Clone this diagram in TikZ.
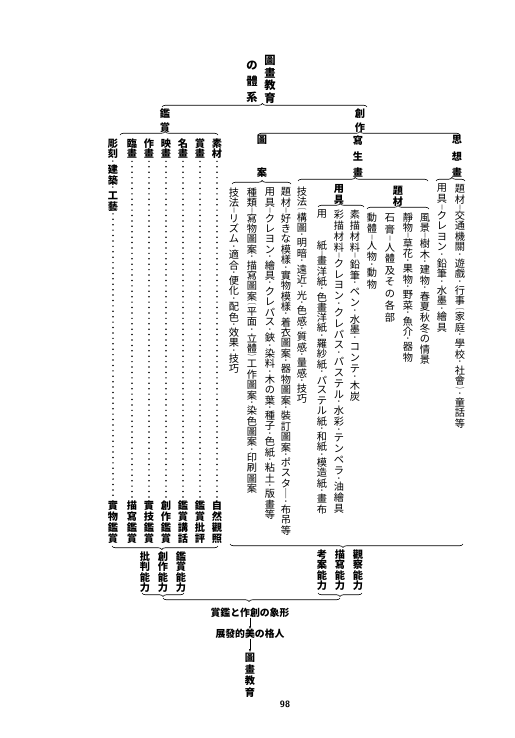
\documentclass[tikz,border=0pt]{standalone}
\usepackage{fontspec}
\usepackage{graphicx}
\newfontfamily\jp{Noto Sans CJK JP}
\usetikzlibrary{decorations.pathreplacing,arrows.meta}

\newlength\pxu
\setlength\pxu{0.05cm}
\newlength\vp
\def\vhalfA{・}\def\vhalfB{‖}\def\vhalfC{︵}\def\vhalfD{︶}
\def\vcell#1#2{\vbox to #1{\vss\hbox to 1em{\hss#2\hss}\vss}}
\def\vsm#1{{\bfseries\fontsize{7.2}{7.2}\selectfont#1}}
\def\vpar#1{\scalebox{2}[1]{\fontsize{6.6}{6.6}\selectfont#1}}
\def\vput#1{\def\vtmp{#1}%
  \ifx\vtmp\vhalfA\vcell{.5\vp}{\vsm{#1}}\else
  \ifx\vtmp\vhalfB\vcell{.5\vp}{\vsm{#1}}\else
  \ifx\vtmp\vhalfC\vcell{.5\vp}{\vpar{#1}}\else
  \ifx\vtmp\vhalfD\vcell{.5\vp}{\vpar{#1}}\else
  \vcell{\vp}{#1}\fi\fi\fi\fi}
\def\vloop#1{\ifx\relax#1\else\vput{#1}\expandafter\vloop\fi}
\newcommand\vt[2]{\setlength\vp{#1\pxu}\vbox{\offinterlineskip\vloop#2\relax}}

\tikzset{
  vcol/.style={inner sep=0pt, anchor=north, font=\jp\fontsize{14.5}{15}\selectfont},
  vhead/.style={vcol, font=\jp\bfseries\fontsize{14.5}{15}\selectfont},
  vtitle/.style={vcol, font=\jp\bfseries\fontsize{16}{16}\selectfont},
  hrow/.style={inner sep=0pt, font=\jp\bfseries\fontsize{14}{14}\selectfont},
  brc/.style={decorate, decoration={brace, amplitude=5pt, aspect=#1}, line width=0.9pt},
  brc/.default=0.5,
  brcdown/.style={decorate, decoration={brace, mirror, amplitude=5pt, aspect=#1}, line width=0.9pt},
  brcdown/.default=0.5,
  dotline/.style={line width=2.4pt, line cap=round, dash pattern=on 0pt off 7.7pt},
  flow/.style={-{Latex[length=4pt,width=3pt]}, line width=0.5pt}
}

\begin{document}
\begin{tikzpicture}[x=0.05cm,y=-0.05cm]
\fill[white] (0,0) rectangle (515,738);
\useasboundingbox (0,0) rectangle (515,738);

\node[vtitle] (title) at (270,54) {\vt{12.5}{圖畫教育}};
\node[vtitle] (taikei) at (252,57) {\vt{16}{の體系}};
\coordinate (topL) at (162,107);
\coordinate (topR) at (367,107);
\draw[brc=0.49] (topL) -- (topR);

\node[vhead] (kansho) at (165,106) {\vt{14.5}{鑑賞}};
\node[vhead] (sosaku) at (360,106) {\vt{14.5}{創作}};

% kansho side
\coordinate (kanL) at (120,135);
\coordinate (kanR) at (218,135);
\draw[brc=0.46] (kanL) -- (kanR);
\node[vhead] (sozai) at (217,138) {\vt{10.5}{素材}};
\node[vhead] (shoga) at (200,138) {\vt{10.5}{賞畫}};
\node[vhead] (meiga) at (183,138) {\vt{10.5}{名畫}};
\node[vhead] (eiga) at (166,138) {\vt{10.5}{映畫}};
\node[vhead] (sakuga) at (149,138) {\vt{10.5}{作畫}};
\node[vhead] (ringa) at (132,138) {\vt{10.5}{臨畫}};
\node[vhead] (choko) at (113,138) {\vt{10.5}{彫刻・建築・工藝}};

\node[vhead] (shizen) at (217,500) {\vt{11}{自然觀照}};
\node[vhead] (hihyo) at (200,500) {\vt{11}{鑑賞批評}};
\node[vhead] (kowa) at (183,500) {\vt{11}{鑑賞講話}};
\node[vhead] (sokan) at (166,500) {\vt{11}{創作鑑賞}};
\node[vhead] (jitsugi) at (149,500) {\vt{11}{實技鑑賞}};
\node[vhead] (byosha) at (132,500) {\vt{11}{描寫鑑賞}};
\node[vhead] (jitsubutsu) at (113,500) {\vt{11}{實物鑑賞}};

\draw[dotline] ([yshift=-3]sozai.south) -- ([yshift=3]shizen.north);
\draw[dotline] ([yshift=-3]shoga.south) -- ([yshift=3]hihyo.north);
\draw[dotline] ([yshift=-3]meiga.south) -- ([yshift=3]kowa.north);
\draw[dotline] ([yshift=-3]eiga.south) -- ([yshift=3]sokan.north);
\draw[dotline] ([yshift=-3]sakuga.south) -- ([yshift=3]jitsugi.north);
\draw[dotline] ([yshift=-3]ringa.south) -- ([yshift=3]byosha.north);
\draw[dotline] ([yshift=-3]choko.south) -- ([yshift=3]jitsubutsu.north);

\coordinate (kbL) at (112,546);
\coordinate (kbR) at (218,546);
\draw[brcdown=0.47] (kbL) -- (kbR);
\node[vhead] (hihan) at (145,551) {\vt{10.5}{批判能力}};
\node[vhead] (sonoryoku) at (163,551) {\vt{10.5}{創作能力}};
\node[vhead] (kannoryoku) at (181,551) {\vt{10.5}{鑑賞能力}};

% sosaku side
\coordinate (soL) at (258,135);
\coordinate (soR) at (460,135);
\draw[brc=0.505] (soL) -- (soR);
\node[vhead] (zuan) at (262,123) {\vt{33}{圖案}};
\node[vhead] (shasei) at (358,132) {\vt{16}{寫生畫}};
\node[vhead] (shiso) at (457,132) {\vt{16}{思想畫}};

\coordinate (zuL) at (232,184);
\coordinate (zuR) at (291,184);
\draw[brc=0.51] (zuL) -- (zuR);
\node[vcol] (zdai) at (286,187) {\vt{10.4}{題材‖好きな模樣・實物模樣・着衣圖案・器物圖案・裝訂圖案・ポスタ｜・布吊等}};
\node[vcol] (zyou) at (270,187) {\vt{10.4}{用具‖クレヨン・繪具・クレパス・鋏・染料・木の葉・種子・色紙・粘土・版畫等}};
\node[vcol] (zshu) at (252,187) {\vt{10.4}{種類‖寫物圖案・描寫圖案︵平面・立體︶工作圖案・染色圖案・印刷圖案}};
\node[vcol] (zgi) at (234,187) {\vt{10.4}{技法‖リズム・適合・便化・配色・效果・技巧}};

\coordinate (shL) at (298,181);
\coordinate (shR) at (428,181);
\draw[brc=0.44] (shL) -- (shR);
\node[vcol] (sgi) at (302,186) {\vt{10.4}{技法︵構圖・明暗・遠近・光・色感・質感・量感・技巧}};
\node[vhead] (syou) at (339,183) {\vt{11}{用具}};
\node[vhead] (sdai) at (398,185) {\vt{11}{題材}};

\coordinate (syL) at (318,207);
\coordinate (syR) at (364,207);
\draw[brc=0.48] (syL) -- (syR);
\node[vcol] (sobyo) at (355,209) {\vt{11}{素描材料‖鉛筆・ペン・水墨・コンテ・木炭}};
\node[vcol] (saibyo) at (339,209) {\vt{10.9}{彩描材料‖クレヨン・クレパス・パステル・水彩・テンペラ・油繪具}};
\node[vcol] (yoshi) at (322,209) {\vt{10.35}{用\null\null 紙‖畫洋紙・色畫洋紙・羅紗紙・パステル紙・和紙・模造紙・畫布}};

\coordinate (sdL) at (367,209);
\coordinate (sdR) at (429,209);
\draw[brc=0.5] (sdL) -- (sdR);
\node[vcol] (fukei) at (425,212) {\vt{10.55}{風景‖樹木・建物・春夏秋冬の情景}};
\node[vcol] (seibutsu) at (408,212) {\vt{10.4}{靜物‖草花・果物・野菜・魚介・器物}};
\node[vcol] (sekko) at (390,212) {\vt{11.7}{石膏‖人體及その各部}};
\node[vcol] (dotai) at (372,212) {\vt{11.1}{動體‖人物・動物}};

\coordinate (siL) at (436,181);
\coordinate (siR) at (465,181);
\draw[brc=0.55] (siL) -- (siR);
\node[vcol] (idai) at (460,183) {\vt{10.7}{題材‖交通機關・遊戲・行事︵家庭・學校・社會︶・童話等}};
\node[vcol] (iyou) at (442,183) {\vt{10.7}{用具‖クレヨン・鉛筆・水墨・繪具}};

\coordinate (sbL) at (230,544);
\coordinate (sbR) at (463,544);
\draw[brcdown=0.485] (sbL) -- (sbR);
\node[vhead] (kansatsu) at (358,549) {\vt{10.5}{觀察能力}};
\node[vhead] (byoshano) at (340,549) {\vt{10.5}{描寫能力}};
\node[vhead] (koan) at (322,549) {\vt{10.5}{考案能力}};

% bottom
\coordinate (abL) at (142,593);
\coordinate (abR) at (184,593);
\draw[brcdown=0.5] (abL) -- (abR);
\coordinate (cbL) at (318,593);
\coordinate (cbR) at (362,593);
\draw[brcdown=0.5] (cbL) -- (cbR);
\coordinate (allL) at (163,598);
\coordinate (allR) at (340,598);
\draw[brcdown=0.486] (allL) -- (allR);
\node[hrow] (keisho) at (250,613) {賞鑑と作創の象形};
\node[hrow] (jinkaku) at (250,634) {展發的美の格人};
\node[vhead] (kyoiku) at (250,652) {\vt{11.5}{圖畫教育}};
\draw[flow] (keisho.south) -- (jinkaku.north);
\draw[flow] (jinkaku.south) -- (kyoiku.north);
\node[font=\sffamily\bfseries\fontsize{13}{13}\selectfont] (page) at (285,704) {98};
\end{tikzpicture}
\end{document}
